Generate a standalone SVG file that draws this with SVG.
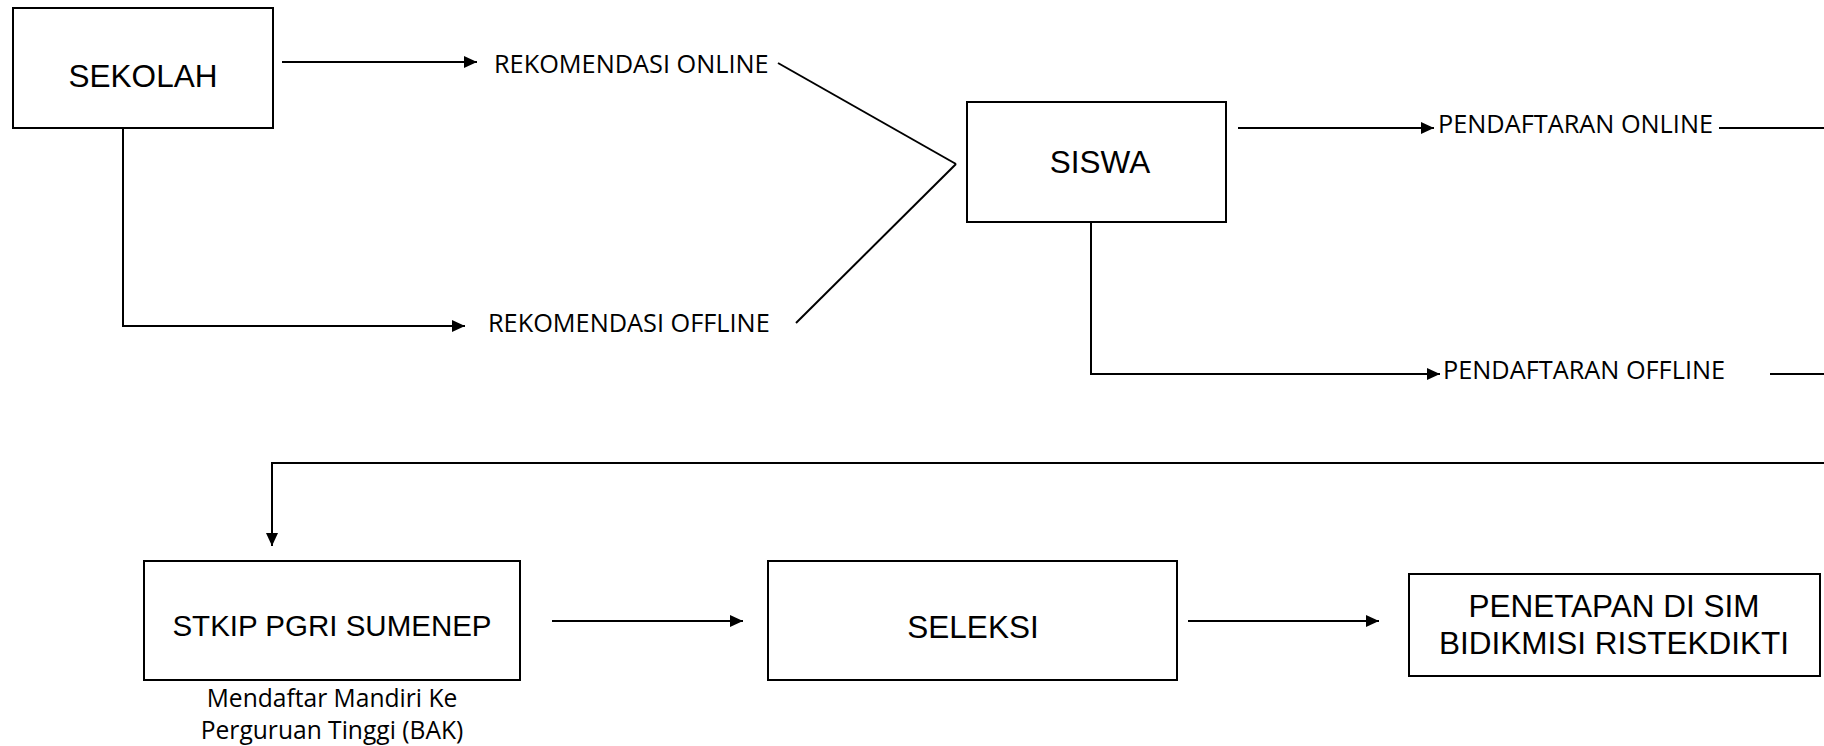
<svg xmlns="http://www.w3.org/2000/svg" width="1824" height="746" viewBox="0 0 1824 746">
<style>
.box{fill:#fff;stroke:#000;stroke-width:2}
.bt{font-family:"Liberation Sans",Arial,sans-serif;font-size:31.5px;fill:#000;text-anchor:middle}
.lb{font-family:"Open Sans","Noto Sans",sans-serif;font-size:25.3px;fill:#000}
.sub{font-family:"Open Sans","Noto Sans",sans-serif;font-size:24.6px;fill:#000;text-anchor:middle}
.c{fill:none;stroke:#000;stroke-width:2}
.a{marker-end:url(#ah)}
</style>
<defs>
<marker id="ah" markerWidth="14" markerHeight="12" refX="13" refY="6" orient="auto" markerUnits="userSpaceOnUse">
<path d="M0,0 L13,6 L0,12 Z" fill="#000"/>
</marker>
</defs>
<rect width="1824" height="746" fill="#fff"/>
<g id="connectors">
<line class="c a" x1="282" y1="62" x2="477" y2="62"/>
<polyline class="c a" points="123,128 123,326 465,326"/>
<line class="c" x1="778" y1="63" x2="956" y2="164"/>
<line class="c" x1="956" y1="164" x2="796" y2="323"/>
<line class="c a" x1="1238" y1="128" x2="1434" y2="128"/>
<line class="c" x1="1719" y1="128" x2="1824" y2="128"/>
<polyline class="c a" points="1091,222 1091,374 1440,374"/>
<line class="c" x1="1770" y1="374" x2="1824" y2="374"/>
<polyline class="c a" points="1824,463 272,463 272,546"/>
<line class="c a" x1="552" y1="621" x2="743" y2="621"/>
<line class="c a" x1="1188" y1="621" x2="1379" y2="621"/>
</g>
<g id="label-rek-online"><text class="lb" x="494" y="73">REKOMENDASI ONLINE</text></g>
<g id="label-rek-offline"><text class="lb" x="488" y="332">REKOMENDASI OFFLINE</text></g>
<g id="label-daftar-online"><text class="lb" x="1438" y="133">PENDAFTARAN ONLINE</text></g>
<g id="label-daftar-offline"><text class="lb" x="1443" y="379">PENDAFTARAN OFFLINE</text></g>
<g id="sekolah">
<rect class="box" x="13" y="8" width="260" height="120"/>
<text class="bt" x="143" y="87">SEKOLAH</text>
</g>
<g id="siswa">
<rect class="box" x="967" y="102" width="259" height="120"/>
<text class="bt" x="1100" y="173">SISWA</text>
</g>
<g id="stkip">
<rect class="box" x="144" y="561" width="376" height="119"/>
<text class="bt" x="332" y="636" style="font-size:29.5px">STKIP PGRI SUMENEP</text>
<text class="sub" x="332" y="707">Mendaftar Mandiri Ke</text>
<text class="sub" x="332" y="739">Perguruan Tinggi (BAK)</text>
</g>
<g id="seleksi">
<rect class="box" x="768" y="561" width="409" height="119"/>
<text class="bt" x="973" y="638">SELEKSI</text>
</g>
<g id="penetapan">
<rect class="box" x="1409" y="574" width="411" height="102"/>
<text class="bt" x="1614" y="617">PENETAPAN DI SIM</text>
<text class="bt" x="1614" y="654">BIDIKMISI RISTEKDIKTI</text>
</g>
</svg>
